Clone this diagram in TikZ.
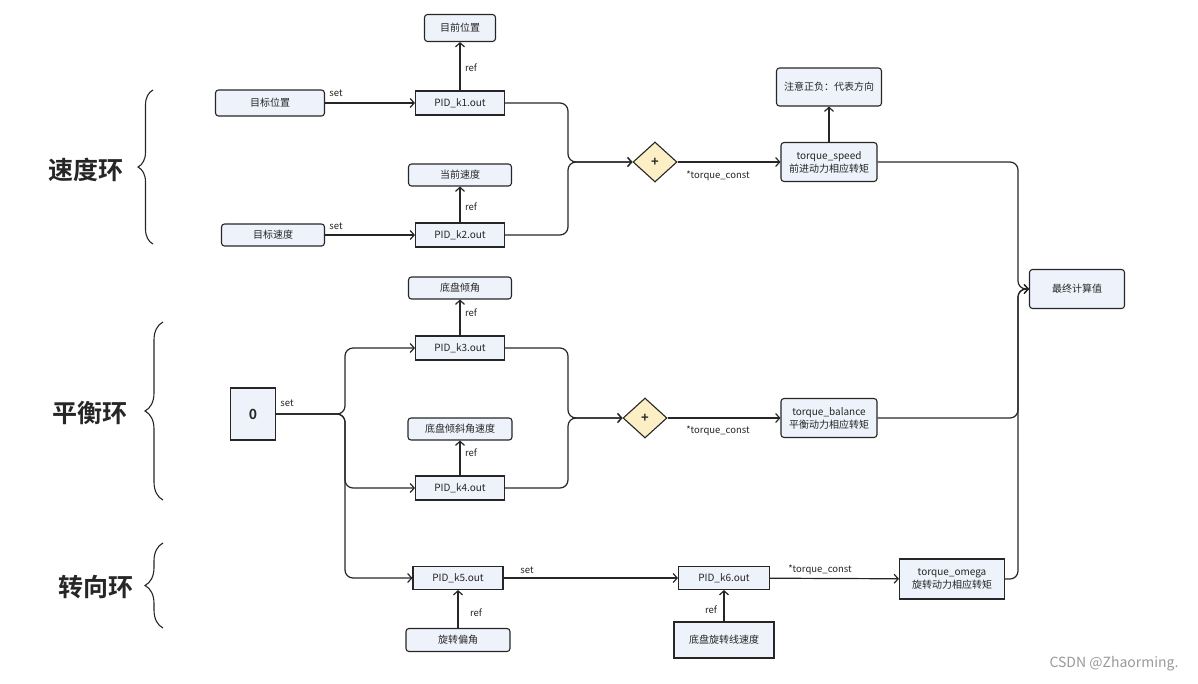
\documentclass[tikz,border=0pt]{standalone}
\usepackage{fontspec}
\setmainfont{Noto Sans CJK SC}[BoldFont={Noto Sans CJK SC Bold}]
\usepackage{xcolor}
\usetikzlibrary{shapes.geometric,arrows.meta,decorations.pathreplacing}
\definecolor{boxfill}{HTML}{EEF2FB}
\definecolor{sumfill}{HTML}{FCEFC6}
\definecolor{edge}{HTML}{262626}

\tikzset{
    tbox/.style={draw, fill=boxfill, rounded corners=3pt, line width=1.1pt, align=center,
        inner sep=0pt, font=\fontsize{10}{13}\selectfont},
    pid/.style={tbox, sharp corners, minimum width=89pt, minimum height=24pt},
    sumnode/.style={diamond, draw, fill=sumfill, line width=1.1pt, inner sep=0pt,
        minimum width=44pt, minimum height=40pt, font=\fontsize{13}{13}\selectfont\bfseries},
    lbl/.style={font=\fontsize{9.5}{11}\selectfont},
    title/.style={font=\fontsize{25}{28}\selectfont\bfseries},
    brc/.style={decorate, decoration={brace, amplitude=#1, aspect=0.5}, line width=1.1pt}
}

\begin{document}
\begin{tikzpicture}[x=1pt, y=-1pt, color=edge, line width=1.2pt,
    >={Straight Barb[length=4pt,width=9pt]}]
    \useasboundingbox (0,0) rectangle (1198,683);
    % loop titles
    \draw (86,170) node[title] (tspd) {速度环};
    \draw (90,413) node[title] (tbl) {平衡环};
    \draw (96,587) node[title] (ttn) {转向环};
    \draw [brc=15pt](153,244)--(153,90);
    \draw [brc=18pt](163,500)--(163,322);
    \draw [brc=18pt](163,628)--(163,543);
    % speed loop
    \draw (460,28) node[tbox, minimum width=71pt, minimum height=27pt] (curpos) {目前位置};
    \draw (270,103) node[tbox, minimum width=109pt, minimum height=26pt] (tgtpos) {目标位置};
    \draw (460,103) node[pid] (k1) {PID\_k1.out};
    \draw (460,175) node[tbox, minimum width=103pt, minimum height=22pt] (curspd) {当前速度};
    \draw (273,235) node[tbox, minimum width=103pt, minimum height=22pt] (tgtspd) {目标速度};
    \draw (460,235) node[pid] (k2) {PID\_k2.out};
    \draw (655,162) node[sumnode] (sum1) {+};
    \draw (829,162) node[tbox, minimum width=96pt, minimum height=39pt] (tspeed) {torque\_speed\\前进动力相应转矩};
    \draw (829,87) node[tbox, minimum width=105pt, minimum height=38pt] (note) {注意正负：代表方向};
    \draw (1077,289) node[tbox, minimum width=95pt, minimum height=39pt] (final) {最终计算值};
    % balance loop
    \draw (253,414) node[tbox, sharp corners, minimum width=45pt, minimum height=52pt,
        font=\fontsize{14}{14}\selectfont\bfseries] (zero) {0};
    \draw (460,288) node[tbox, minimum width=103pt, minimum height=22pt] (tilt) {底盘倾角};
    \draw (460,348) node[pid] (k3) {PID\_k3.out};
    \draw (460,429) node[tbox, minimum width=104pt, minimum height=22pt] (tiltrate) {底盘倾斜角速度};
    \draw (460,488) node[pid] (k4) {PID\_k4.out};
    \draw (645,418) node[sumnode] (sum2) {+};
    \draw (829,418) node[tbox, minimum width=96pt, minimum height=39pt] (tbal) {torque\_balance\\平衡动力相应转矩};
    % turn loop
    \draw (458,578) node[pid, minimum width=90pt, minimum height=23pt] (k5) {PID\_k5.out};
    \draw (458,640) node[tbox, minimum width=104pt, minimum height=23pt] (yaw) {旋转偏角};
    \draw (724,578) node[pid, minimum width=91pt, minimum height=23pt] (k6) {PID\_k6.out};
    \draw (724,640) node[tbox, sharp corners, minimum width=100pt, minimum height=36pt] (linspd) {底盘旋转线速度};
    \draw (952,579) node[tbox, sharp corners, minimum width=105pt, minimum height=40pt] (tomega) {torque\_omega\\旋转动力相应转矩};
    % edge labels
    \draw (336,93) node[lbl] (set1) {set};
    \draw (336,226) node[lbl] (set2) {set};
    \draw (471,68) node[lbl] (ref1) {ref};
    \draw (471,207) node[lbl] (ref2) {ref};
    \draw (718,176) node[lbl] (tc1) {*torque\_const};
    \draw (287,403) node[lbl] (set3) {set};
    \draw (471,313) node[lbl] (ref3) {ref};
    \draw (471,453) node[lbl] (ref4) {ref};
    \draw (718,431) node[lbl] (tc2) {*torque\_const};
    \draw (527,570) node[lbl] (set4) {set};
    \draw (476,613) node[lbl] (ref5) {ref};
    \draw (711,610) node[lbl] (ref6) {ref};
    \draw (820,570) node[lbl] (tc3) {*torque\_const};
    \draw (1114,664) node[text=black!40, font=\fontsize{14}{16}\selectfont] (wm) {CSDN @Zhaorming.};
    % junctions
    \coordinate (j0) at (345,414);
    \coordinate (j1) at (568,162);
    \coordinate (j2) at (568,418);
    \coordinate (j3) at (1018,289);
    % arrows
    \draw [->](tgtpos)--(k1);
    \draw [->](tgtspd)--(k2);
    \draw [->](k1)--(curpos);
    \draw [->](k2)--(curspd);
    \draw [->, rounded corners=8pt](k1.east)-|(j1)--(sum1.west);
    \draw [->, rounded corners=8pt](k2.east)-|(j1)--(sum1.west);
    \draw [->](sum1)--(tspeed);
    \draw [->](tspeed)--(note);
    \draw [->, rounded corners=8pt](zero.east)--(j0)|-(k3.west);
    \draw [->, rounded corners=8pt](zero.east)--(j0)|-(k4.west);
    \draw [->, rounded corners=8pt](zero.east)--(j0)|-(k5.west);
    \draw [->](k3)--(tilt);
    \draw [->](k4)--(tiltrate);
    \draw [->, rounded corners=8pt](k3.east)-|(j2)--(sum2.west);
    \draw [->, rounded corners=8pt](k4.east)-|(j2)--(sum2.west);
    \draw [->](sum2)--(tbal);
    \draw [->](yaw)--(k5);
    \draw [->](k5)--(k6);
    \draw [->](linspd)--(k6);
    \draw [->](k6)--(tomega);
    \draw [->, rounded corners=8pt](tspeed.east)-|(j3)[sharp corners]--(final.west);
    \draw [->, rounded corners=8pt](tbal.east)-|(j3)[sharp corners]--(final.west);
    \draw [->, rounded corners=8pt](tomega.east)-|(j3)[sharp corners]--(final.west);
\end{tikzpicture}
\end{document}
